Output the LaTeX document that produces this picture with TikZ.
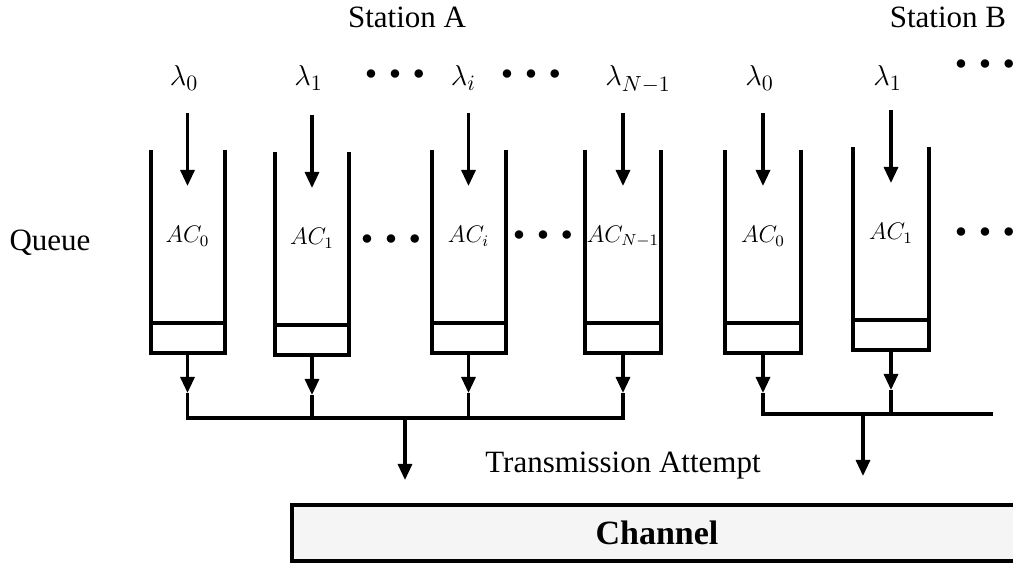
\documentclass[tikz,border=0pt]{standalone}
\usepackage{fontspec}
\setmainfont{Liberation Serif}
\usetikzlibrary{positioning,arrows.meta}
\newcommand{\threedots}{$\bullet\hspace{4pt}\bullet\hspace{4pt}\bullet$}

\begin{document}
\begin{tikzpicture}[
  x=0.5pt, y=-0.5pt, >={Triangle[length=8pt,width=7pt]},
  lbl/.style={font=\fontsize{15.5}{18}\selectfont},
  small/.style={font=\fontsize{11}{13}\selectfont},
  tube/.style={minimum width=37pt,minimum height=86.5pt,inner sep=0pt,outer sep=0pt,font=\fontsize{11.5}{13}\selectfont},
  slot/.style={draw,line width=2pt,minimum width=37pt,minimum height=15pt,inner sep=0pt,outer sep=0pt},
  wall/.style={line width=2pt},
  flow/.style={->,line width=1.6pt},
  bus/.style={line width=1.6pt},
  chan/.style={draw,line width=2pt,fill=black!4,minimum width=365pt,minimum height=28pt,font=\fontsize{17}{20}\selectfont\bfseries}]
\useasboundingbox (0,0) rectangle (1013,565);

\node[lbl,anchor=base] (stA) at (407,28) {Station A};
\node[lbl,anchor=base] (stB) at (948,28) {Station B};
\node[lbl] (queue) at (50,243) {Queue};

\foreach \n/\x/\yt/\w/\k in {a0/187.5/150/37/0, a1/312/152/37/1, ai/468.5/150/37/i, an/623/150/38/{N-1}, b0/763/150/38/0, b1/891/147/38/1} {
  \node[tube,minimum width=\w pt] (q\n) at (\x,\yt+86.5) {$AC_{\k}$};
  \node[slot,minimum width=\w pt,below=0pt of q\n] (s\n) {};
  \draw[wall] (q\n.north west) -- (q\n.south west) (q\n.north east) -- (q\n.south east);
  \node[lbl,anchor=base west,inner sep=0pt] (lam\n) at (\x-18,86) {$\lambda_{\k}$};
  \coordinate (in\n) at ([yshift=18.5pt]q\n.north);
  \coordinate (out\n) at ([yshift=-20pt]s\n.south);
  \draw[flow] (in\n) -- ([yshift=-18pt]q\n.north);
  \draw[flow] (s\n) -- (out\n);
}

\node[small] (dtop1) at (395,75) {\threedots};
\node[small] (dtop2) at (531,75) {\threedots};
\node[small] (dtop3) at (985,65) {\threedots};
\node[small] (dmid1) at (391,240) {\threedots};
\node[small] (dmid2) at (543,236) {\threedots};
\node[small] (dmid3) at (985,233) {\threedots};

\coordinate (busA) at (405,418);
\coordinate (busB) at (863,414);
\coordinate (busBend) at (993,414);
\draw[bus] (outa0) -- (outa0 |- busA) -- (outan |- busA) -- (outan);
\draw[bus] (outa1) -- (outa1 |- busA);
\draw[bus] (outai) -- (outai |- busA);
\draw[bus] (outb0) -- (outb0 |- busB) -- (busBend);
\draw[bus] (outb1) -- (outb1 |- busB);

\node[lbl,anchor=base] (tx) at (623,473) {Transmission Attempt};
\coordinate (tipA) at (405,480);
\coordinate (tipB) at (863,476);
\draw[flow] (busA) -- (tipA);
\draw[flow] (busB) -- (tipB);

\node[chan] (chan) at (657,533) {Channel};
\end{tikzpicture}
\end{document}
